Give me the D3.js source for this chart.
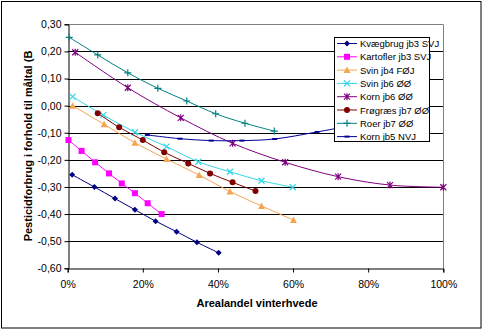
<!DOCTYPE html>
<html>
<head>
<meta charset="utf-8">
<script src="https://cdn.jsdelivr.net/npm/d3@7"></script>
<style>
  body { margin: 0; background: #fff; }
  svg { display: block; font-family: "Liberation Sans", Arial, sans-serif; }
</style>
</head>
<body>
<div id="chart"></div>
<script>
// series data: [arealandel %, pesticidforbrug]
const kvaegbrug = [[1.2,-0.255],[7.1,-0.300],[12.6,-0.343],[17.9,-0.384],[23.4,-0.426],[29.0,-0.465],[34.4,-0.504],[40.2,-0.543]];
const kartofler = [[0.2,-0.127],[3.7,-0.167],[7.3,-0.209],[11.0,-0.250],[14.4,-0.287],[17.9,-0.323],[21.3,-0.360],[25.0,-0.400]];
const svinFOJ = [[1.3,0.000],[9.7,-0.069],[17.9,-0.137],[26.3,-0.197],[35.0,-0.256],[43.2,-0.317],[51.6,-0.370],[60.1,-0.422]];
const svinOO = [[1.3,0.033],[9.5,-0.035],[17.9,-0.098],[26.3,-0.151],[34.8,-0.207],[43.2,-0.244],[51.6,-0.277],[59.9,-0.301]];
const kornOO = [[2.0,0.197],[16.0,0.066],[30.1,-0.045],[43.9,-0.139],[57.9,-0.209],[72.0,-0.262],[85.8,-0.293],[100,-0.301]];
const frograes = [[8.0,-0.028],[13.7,-0.080],[20.0,-0.127],[25.7,-0.172],[32.1,-0.213],[37.9,-0.250],[43.9,-0.283],[50.0,-0.315]];
const roer = [[0.4,0.252],[8.0,0.187],[16.0,0.121],[24.0,0.064],[31.7,0.017],[39.4,-0.030],[47.2,-0.065],[55.0,-0.094]];
const kornNVJ = [[21.2,-0.108],[29.9,-0.122],[38.2,-0.129],[46.4,-0.129],[55.1,-0.123],[66.4,-0.097],[75.0,-0.075]];

const seriesNames = ["Kvægbrug jb3 SVJ","Kartofler jb3 SVJ","Svin jb4 FØJ","Svin jb6 ØØ","Korn jb6 ØØ","Frøgræs jb7 ØØ","Roer jb7 ØØ","Korn jb5 NVJ"];
const seriesData = [kvaegbrug, kartofler, svinFOJ, svinOO, kornOO, frograes, roer, kornNVJ];
const seriesColors = ["#000080","#ff00ff","#f5a550","#33d6e6","#800080","#800000","#008080","#000099"];
const seriesMarkers = ["diamond","square","triangle","x","asterisk","circle","plus","dash"];

const yTicks = [0.3,0.2,0.1,0,-0.1,-0.2,-0.3,-0.4,-0.5,-0.6];
const xTicks = [0,20,40,60,80,100];

const width = 483, height = 330;
const svg = d3.select("#chart").append("svg").attr("width", width).attr("height", height);

// outer frame
svg.append("rect").attr("x", 1.5).attr("y", 1.5).attr("width", 479.5).attr("height", 326.5)
  .attr("fill", "#fff").attr("stroke", "#000").attr("stroke-width", 1);

const x = d3.scaleLinear().domain([0, 100]).range([67.7, 443.3]);
const y = d3.scaleLinear().domain([-0.6, 0.3]).range([268.3, 24.3]);

// gridlines
svg.append("g").selectAll("line").data(yTicks.filter(d => d < 0.25 && d > -0.55)).join("line")
  .attr("x1", x(0)).attr("x2", x(100))
  .attr("y1", d => Math.round(y(d)) + 0.5).attr("y2", d => Math.round(y(d)) + 0.5)
  .attr("stroke", "#000").attr("stroke-width", 1);

// plot border top/right (gray)
svg.append("path")
  .attr("d", `M${x(0)},${Math.round(y(0.3)) + 0.5}H${Math.round(x(100)) + 0.5}V${y(-0.6)}`)
  .attr("fill", "none").attr("stroke", "#808080");

const fmtY = d => d3.format(".2f")(d).replace(".", ",").replace("−", "-");

const yAxis = svg.append("g").attr("transform", `translate(${Math.round(x(0)) + 0.5},0)`)
  .call(d3.axisLeft(y).tickValues(yTicks).tickFormat(fmtY).tickSize(4).tickPadding(3));
yAxis.select(".domain").attr("stroke", "#000");
yAxis.selectAll("text").attr("font-size", 10.5).attr("fill", "#000").attr("font-family", "Liberation Sans, Arial, sans-serif");

const xAxis = svg.append("g").attr("transform", `translate(0,${Math.round(y(-0.6)) + 0.5})`)
  .call(d3.axisBottom(x).tickValues(xTicks).tickFormat(d => d + "%").tickSize(4).tickPadding(8));
xAxis.select(".domain").attr("stroke", "#000");
xAxis.selectAll("text").attr("font-size", 10.5).attr("fill", "#000").attr("font-family", "Liberation Sans, Arial, sans-serif");

// axis titles
svg.append("text").attr("x", 257).attr("y", 307).attr("text-anchor", "middle")
  .attr("font-size", 11).attr("font-weight", "bold").text("Arealandel vinterhvede");
svg.append("text").attr("transform", "translate(32,146) rotate(-90)").attr("text-anchor", "middle")
  .attr("font-size", 11).attr("font-weight", "bold").text("Pesticidforbrug i forhold til måltal (B");

function drawMarker(g, type, color) {
  switch (type) {
    case "diamond":
      g.append("path").attr("d", "M0,-3L3,0L0,3L-3,0Z").attr("fill", color); break;
    case "square":
      g.append("rect").attr("x", -3).attr("y", -3).attr("width", 6).attr("height", 6).attr("fill", color); break;
    case "triangle":
      g.append("path").attr("d", "M0,-3.5L3.5,3L-3.5,3Z").attr("fill", color); break;
    case "x":
      g.append("path").attr("d", "M-3,-3L3,3M-3,3L3,-3").attr("stroke", color).attr("stroke-width", 1.2); break;
    case "asterisk":
      g.append("path").attr("d", "M-3,-3L3,3M-3,3L3,-3M0,-3.5V3.5").attr("stroke", color).attr("stroke-width", 1.2); break;
    case "circle":
      g.append("circle").attr("r", 3).attr("fill", color); break;
    case "plus":
      g.append("path").attr("d", "M-3.5,0H3.5M0,-3.5V3.5").attr("stroke", color).attr("stroke-width", 1.2); break;
    case "dash":
      g.append("path").attr("d", "M-2.5,0H2.5").attr("stroke", color).attr("stroke-width", 2); break;
  }
}

const line = d3.line().x(d => x(d[0])).y(d => y(d[1])).curve(d3.curveCatmullRom);

seriesData.forEach((data, i) => {
  const g = svg.append("g");
  g.append("path").datum(data).attr("d", line)
    .attr("fill", "none").attr("stroke", seriesColors[i]).attr("stroke-width", 1);
  data.forEach(p => {
    drawMarker(g.append("g").attr("transform", `translate(${x(p[0])},${y(p[1])})`), seriesMarkers[i], seriesColors[i]);
  });
});

// legend
const legend = svg.append("g");
legend.append("rect").attr("x", 334.5).attr("y", 37.5).attr("width", 95).attr("height", 104)
  .attr("fill", "#fff").attr("stroke", "#000");
seriesNames.forEach((name, i) => {
  const ly = 43.5 + i * 13.3;
  const g = legend.append("g");
  g.append("line").attr("x1", 337).attr("x2", 357).attr("y1", ly).attr("y2", ly)
    .attr("stroke", seriesColors[i]).attr("stroke-width", 1);
  drawMarker(g.append("g").attr("transform", `translate(347,${ly})`), seriesMarkers[i], seriesColors[i]);
  g.append("text").attr("x", 360).attr("y", ly + 3.5).attr("font-size", 9.5).attr("fill", "#000").text(name);
});
</script>
</body>
</html>
